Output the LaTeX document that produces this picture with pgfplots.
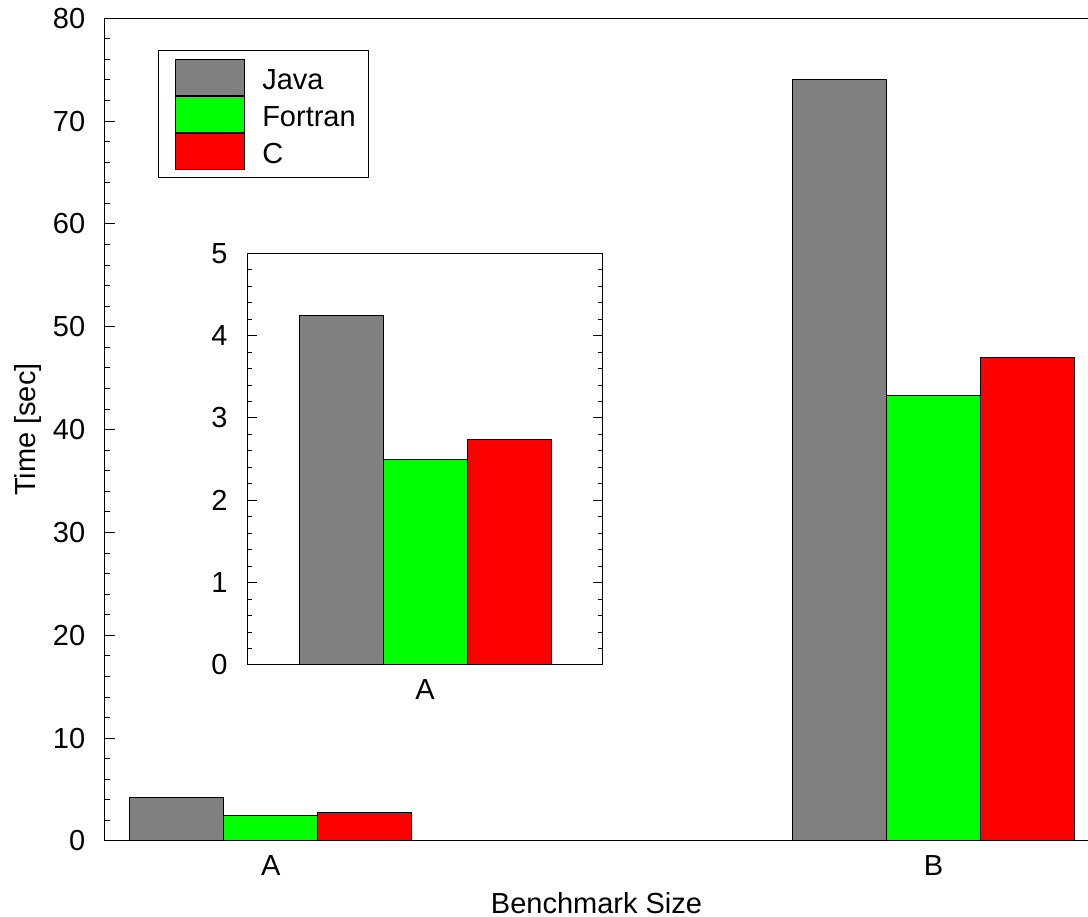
\documentclass[border=0pt]{standalone}
\usepackage{fontspec}
\setmainfont{Liberation Sans}
\usepackage{pgfplots}
\pgfplotsset{compat=1.18}
\definecolor{grgreen}{RGB}{0,255,0}
\definecolor{grgray}{RGB}{128,128,128}
\definecolor{grred}{RGB}{255,0,0}
\pgfplotstableread{
x java fortran c
0 4.25 2.50 2.74
1 74.0 43.3 47.0
}\maindata
\pgfplotstableread{
x java fortran c
0 4.25 2.50 2.74
}\insetdata
\pgfplotsset{
  common/.style={
    scale only axis,
    anchor=south west,
    ybar,
    /pgf/number format/assume math mode=true,
    axis line style={black, line width=1pt},
    tick style={black, line width=1pt},
    major tick length=10pt,
    minor tick length=5pt,
    minor y tick num=4,
    major x tick style={draw=none},
    minor x tick style={draw=none},
    ymin=0,
    yticklabel style={xshift=-10pt},
    xticklabel style={yshift=5pt},
  },
}
\begin{document}
\fontsize{29}{35}\selectfont
\begin{tikzpicture}[font=\fontsize{29}{35}\selectfont]
\useasboundingbox (0pt,0pt) rectangle (1088pt,917pt);
\begin{axis}[common,
  at={(105pt,76pt)},
  width=983pt, height=822.7pt,
  axis x line*=box, axis y line*=left,
  xmin=-0.25, xmax=1.233,
  ymax=80,
  xtick={0,1}, xticklabels={A,B},
  ytick={0,10,...,80},
  bar width=0.142,
  xlabel={Benchmark Size},
  ylabel={Time [sec]},
  xlabel style={inner ysep=0pt, yshift=-6.7pt},
  ylabel style={yshift=-8pt},
  legend cell align=left,
  legend style={at={(0.0542,0.9612)}, anchor=north west, draw=black, line width=1pt,
    inner xsep=13pt, inner ysep=8pt, row sep=0pt, column sep=17pt,
    nodes={inner sep=0pt, text height=20pt, text depth=0pt}},
  legend image code/.code={\path[draw=none,fill=none] (0pt,-15.3pt) rectangle (73pt,20.7pt);
    \draw[#1] (4pt,-15.3pt) rectangle (73pt,20.7pt);},
]
\addplot[fill=grgray, draw=black, line width=1pt, bar shift=-0.142] table[x=x,y=java] {\maindata};
\addplot[fill=grgreen, draw=black, line width=1pt, bar shift=0] table[x=x,y=fortran] {\maindata};
\addplot[fill=grred, draw=black, line width=1pt, bar shift=0.142] table[x=x,y=c] {\maindata};
\legend{Java,Fortran,C}
\end{axis}
\begin{axis}[common,
  at={(247.3pt,252pt)},
  width=355.4pt, height=411.7pt,
  xmin=-1, xmax=1,
  ymax=5,
  xtick={0}, xticklabels={A},
  ytick={0,1,...,5},
  ytick pos=both,
  bar width=0.4727,
]
\addplot[fill=grgray, draw=black, line width=1pt, bar shift=-0.4727] table[x=x,y=java] {\insetdata};
\addplot[fill=grgreen, draw=black, line width=1pt, bar shift=0] table[x=x,y=fortran] {\insetdata};
\addplot[fill=grred, draw=black, line width=1pt, bar shift=0.4727] table[x=x,y=c] {\insetdata};
\end{axis}
\end{tikzpicture}
\end{document}
